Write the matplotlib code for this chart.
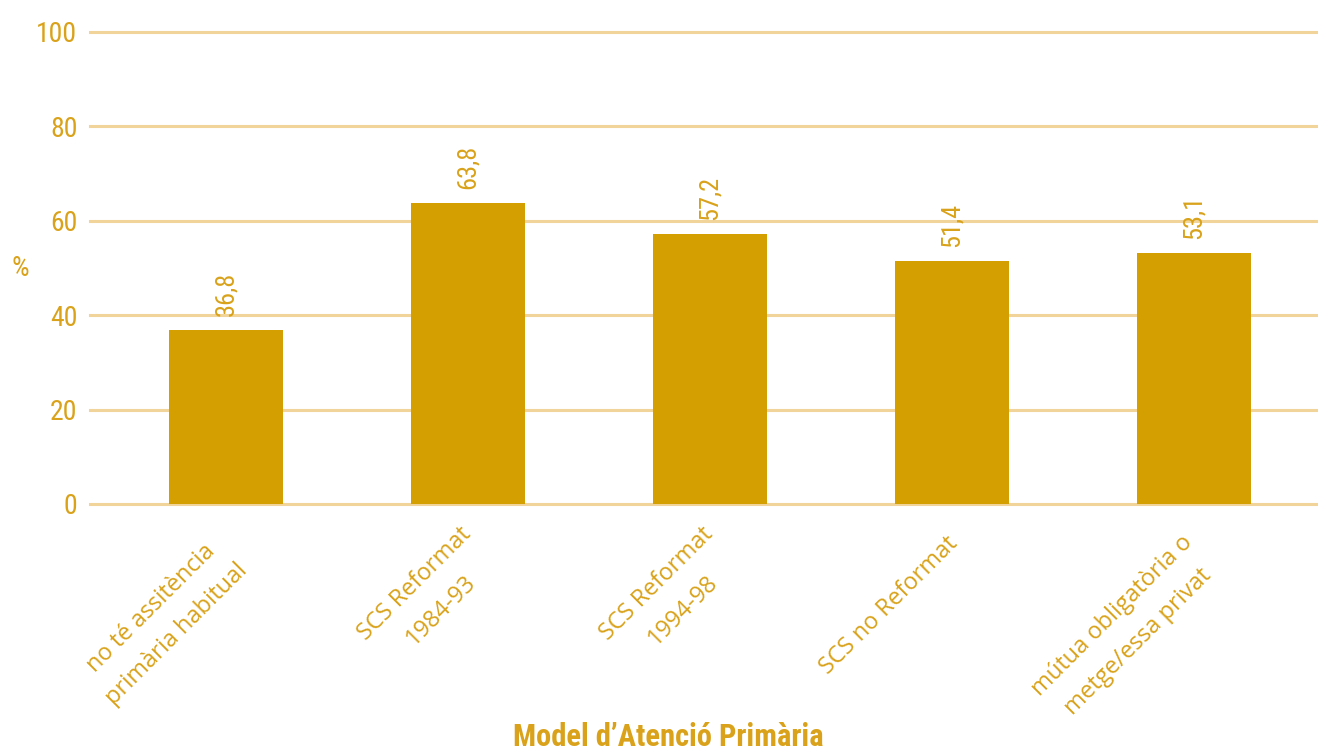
import os
import numpy as np
import matplotlib
matplotlib.use('Agg')
from matplotlib import pyplot as plt
import matplotlib.font_manager as fm

# data
cats = ['no té assitència\nprimària habitual',
        'SCS Reformat\n1984-93',
        'SCS Reformat\n1994-98',
        'SCS no Reformat',
        'mútua obligatòria o\nmetge/essa privat']
vals = [36.8, 63.8, 57.2, 51.4, 53.1]
yticks = [0, 20, 40, 60, 80, 100]

barCol = '#D49F00'
txtCol = '#D9A21A'
gridCol = '#F0D49A'

# look for a narrow font for numbers and axis title
names = set(f.name for f in fm.fontManager.ttflist)
condFam, condStretch = 'Roboto', 'normal'
found = False
for fam in ['Roboto Condensed', 'Liberation Sans Narrow', 'Open Sans Condensed', 'Noto Sans Condensed']:
    if fam in names:
        condFam, condStretch = fam, 'normal'
        found = True
        break
if not found:
    for fam in ['Noto Sans', 'DejaVu Sans', 'Roboto', 'Open Sans']:
        try:
            p = fm.findfont(fm.FontProperties(family=fam, stretch='condensed'),
                            fallback_to_default=False)
        except Exception:
            continue
        b = os.path.basename(p)
        if 'ondensed' in b or 'Narrow' in b or 'wdth' in b:
            condFam, condStretch = fam, 'condensed'
            break

labFam = 'Open Sans' if 'Open Sans' in names else 'DejaVu Sans'
plt.rcParams['font.family'] = [condFam, 'DejaVu Sans']

fig = plt.figure(figsize=(13.18, 7.52), dpi=100)
ax = fig.add_axes([90/1318, 1-504/752, 1228/1318, 472/752])

x = np.arange(len(vals))
ax.bar(x, vals, width=0.47, color=barCol, zorder=2)
for xi, v in zip(x, vals):
    ax.text(xi, v + 3.0, ('%.1f' % v).replace('.', ','), rotation=90,
            ha='center', va='bottom', color=txtCol, fontsize=19,
            fontstretch=condStretch)

ax.set_xlim(-0.562, 4.512)
ax.set_ylim(0, 100)
ax.set_yticks(yticks)
ax.set_yticklabels([str(t) for t in yticks], color=txtCol, fontsize=20,
                   fontstretch=condStretch)
ax.yaxis.grid(True, color=gridCol, linewidth=2.2, zorder=0)
for gl in ax.get_ygridlines():
    gl.set_clip_on(False)
ax.set_axisbelow(True)
ax.tick_params(axis='both', length=0, pad=9)

# category labels, rotated 45 degrees, placed by block centre
ax.set_xticks(x)
ax.set_xticklabels([])
labDx = [-62, -40, -40, -63, -69]
labDy = [-117, -93, -93, -102, -125]
for xi, c, dx, dy in zip(x, cats, labDx, labDy):
    ax.annotate(c, xy=(xi, 0), xycoords='data', xytext=(dx, dy),
                textcoords='offset pixels', rotation=45, rotation_mode='anchor',
                ha='center', va='center', multialignment='center',
                color=txtCol, fontsize=17, family=labFam, linespacing=1.7,
                annotation_clip=False)

for s in ['top', 'right', 'left', 'bottom']:
    ax.spines[s].set_visible(False)

fig.text(20/1318, 1-268/752, '%', color=txtCol, fontsize=20, ha='center', va='center',
         fontstretch=condStretch)
fig.text(668/1318, 1-737/752, 'Model d\u2019Atenció Primària', color=txtCol,
         fontsize=22, fontweight='bold', ha='center', va='center',
         fontstretch=condStretch)

fig.savefig('out.png', dpi=100)
plt.close()
